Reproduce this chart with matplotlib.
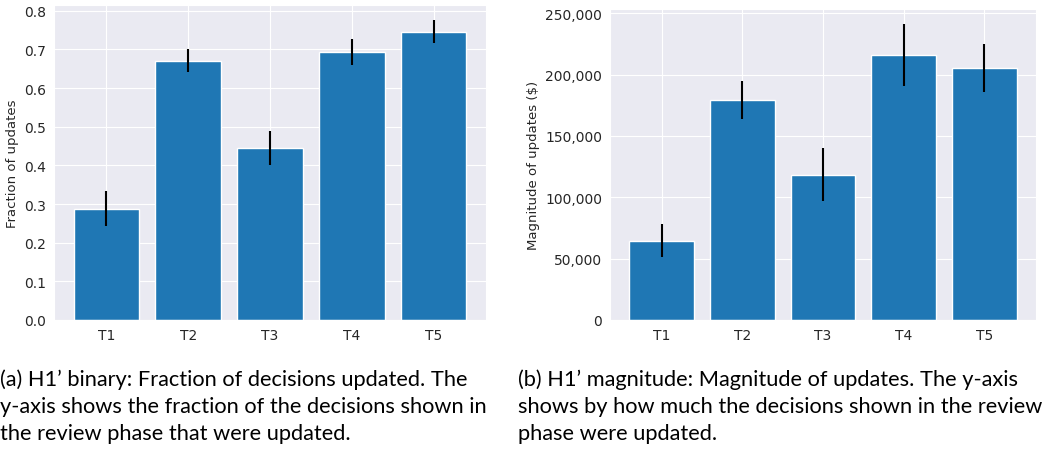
import matplotlib
matplotlib.use('Agg')
import matplotlib.pyplot as plt
import seaborn as sns
from matplotlib.ticker import FuncFormatter

sns.set_style('darkgrid')
plt.rcParams['font.family'] = ['DejaVu Sans']

tasks = ['T1', 'T2', 'T3', 'T4', 'T5']

# (a) fraction of decisions updated
frac = [0.288, 0.671, 0.445, 0.693, 0.746]
frac_err = [0.045, 0.030, 0.043, 0.033, 0.030]

# (b) magnitude of updates ($)
mag = [64700, 179300, 118500, 216000, 205400]
mag_err = [13600, 15300, 21600, 25400, 19300]

captions = [
    "(a) H1\u2019 binary: Fraction of decisions updated. The\n"
    "y-axis shows the fraction of the decisions shown in\n"
    "the review phase that were updated.",
    "(b) H1\u2019 magnitude: Magnitude of updates. The y-axis\n"
    "shows by how much the decisions shown in the review\n"
    "phase were updated.",
]

fig = plt.figure(figsize=(10.44, 4.52), dpi=100)
ax1 = fig.add_axes([54 / 1044, 1 - 321 / 452, 432 / 1044, 315 / 452])
ax2 = fig.add_axes([610 / 1044, 1 - 321 / 452, 426 / 1044, 311 / 452])

color = '#1f77b4'
ax1.bar(tasks, frac, width=0.8, color=color, edgecolor='white', linewidth=1,
        yerr=frac_err, error_kw=dict(ecolor='black', elinewidth=1.5, capsize=0))
ax1.set_ylabel('Fraction of updates', fontsize=9.5)
ax1.tick_params(axis='both', labelsize=10, pad=2)

ax2.bar(tasks, mag, width=0.8, color=color, edgecolor='white', linewidth=1,
        yerr=mag_err, error_kw=dict(ecolor='black', elinewidth=1.5, capsize=0))
ax2.set_ylabel('Magnitude of updates ($)', fontsize=9.5)
ax2.yaxis.set_major_formatter(FuncFormatter(lambda v, p: f'{int(v):,}'))
ax2.set_yticks([0, 50000, 100000, 150000, 200000, 250000])
ax2.tick_params(axis='both', labelsize=10, pad=2)

for ax in (ax1, ax2):
    ax.margins(y=0.05)
    ax.set_ylim(bottom=0)

cap_font = dict(fontsize=15.7, family='Lato', color='black',
                va='top', ha='left', linespacing=1.45)
fig.text(0 / 1044, 1 - 369 / 452, captions[0], **cap_font)
fig.text(518 / 1044, 1 - 369 / 452, captions[1], **cap_font)

fig.savefig('out.png', dpi=100)
